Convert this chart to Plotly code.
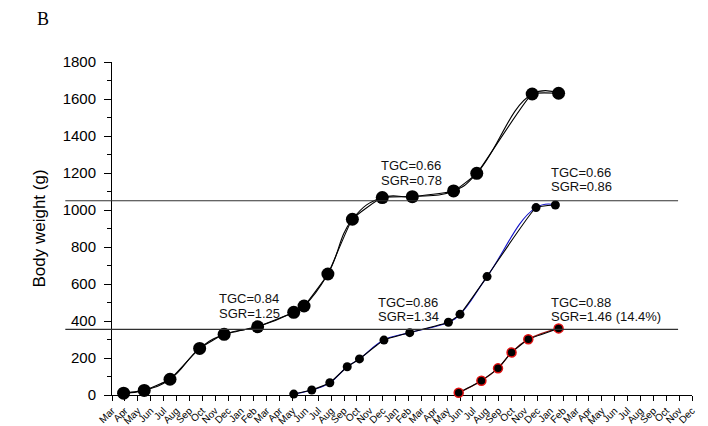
import plotly.graph_objects as go

# Month tick labels along the time axis (one per month, starting in March)
months = [
    "Mar", "Apr", "May", "Jun", "Jul", "Aug", "Sep", "Oct", "Nov", "Dec", "Jan", "Feb",
    "Mar", "Apr", "May", "Jun", "Jul", "Aug", "Sep", "Oct", "Nov", "Dec", "Jan", "Feb",
    "Mar", "Apr", "May", "Jun", "Jul", "Aug", "Sep", "Oct", "Nov", "Dec", "Jan", "Feb",
    "Mar", "Apr", "May", "Jun", "Jul", "Aug", "Sep", "Oct", "Nov", "Dec",
]

# Cohort 1 (month position, body weight in g)
c1_month = [0.9, 2.5, 4.5, 6.8, 8.7, 11.3, 14.1, 14.9, 16.75, 18.65, 20.97, 23.3, 26.5, 28.3, 32.6, 34.65]
c1_weight = [10, 25, 85, 252, 328, 369, 447, 481, 654, 950, 1067, 1072, 1103, 1198, 1627, 1631]

# Cohort 2
c2_month = [14.1, 15.5, 16.9, 18.25, 19.2, 21.1, 23.1, 26.1, 27.0, 29.1, 32.9, 34.4]
c2_weight = [5, 27, 66, 153, 195, 297, 337, 393, 436, 640, 1013, 1027]

# Cohort 3
c3_month = [26.9, 28.66, 29.95, 31.0, 32.3, 34.65]
c3_weight = [12, 77, 144, 230, 301, 360]

# Reference weights drawn as horizontal guide lines
ref_weights = [1050, 355]

# Growth-index labels: (month position, weight, text)
labels = [
    (8.22, 522, "TGC=0.84"), (8.22, 441, "SGR=1.25"),
    (20.80, 1243, "TGC=0.66"), (20.80, 1162, "SGR=0.78"),
    (20.55, 499, "TGC=0.86"), (20.55, 423, "SGR=1.34"),
    (33.98, 1204, "TGC=0.66"), (33.98, 1126, "SGR=0.86"),
    (33.98, 501, "TGC=0.88"), (33.98, 423, "SGR=1.46 (14.4%)"),
]

FONT = "Liberation Sans, Arial, sans-serif"

fig = go.Figure()


def add_cohort(x, y, color_a, color_b, msize, mline):
    # two fitted curves through the same observations, with different smoothing
    fig.add_trace(go.Scatter(x=x, y=y, mode="lines", cliponaxis=False,
                             line=dict(color=color_a, width=1.1, shape="spline", smoothing=1.3),
                             showlegend=False, hoverinfo="skip"))
    fig.add_trace(go.Scatter(x=x, y=y, mode="lines", cliponaxis=False,
                             line=dict(color=color_b, width=1.1, shape="spline", smoothing=0.35),
                             showlegend=False, hoverinfo="skip"))
    fig.add_trace(go.Scatter(x=x, y=y, mode="markers", cliponaxis=False,
                             marker=dict(color="black", size=msize, line=mline),
                             showlegend=False))


add_cohort(c1_month, c1_weight, "black", "black", 13, dict(width=0))
add_cohort(c2_month, c2_weight, "#1010c8", "black", 9, dict(width=0))
add_cohort(c3_month, c3_weight, "#a01010", "black", 9, dict(width=1.5, color="#e01010"))

for w in ref_weights:
    fig.add_shape(type="line", xref="paper", yref="y", x0=-0.0805, x1=0.976,
                  y0=w, y1=w, line=dict(color="#303030", width=1.1), layer="above")

for x, y, t in labels:
    fig.add_annotation(x=x, y=y, xref="x", yref="y", text=t, showarrow=False,
                       xanchor="left", yanchor="middle", borderpad=0,
                       font=dict(family=FONT, size=13, color="#111111"))

# panel letter
fig.add_annotation(x=-0.133, y=1.13, xref="paper", yref="paper", text="B",
                   showarrow=False, xanchor="left", yanchor="middle",
                   font=dict(family="Liberation Serif, Times New Roman, serif", size=18, color="black"))

fig.update_layout(
    width=708, height=426,
    margin=dict(l=112, r=16, t=62, b=31, autoexpand=False),
    plot_bgcolor="white", paper_bgcolor="white",
    font=dict(family=FONT, color="black"),
    xaxis=dict(
        range=[0, 45], tickmode="array", tickvals=list(range(len(months))), ticktext=months,
        tickangle=-45, tickfont=dict(size=10, family=FONT), ticks="outside", ticklen=5,
        tickcolor="black", showline=True, linecolor="black", linewidth=1,
        showgrid=False, zeroline=False, layer="below traces", automargin=False,
    ),
    yaxis=dict(
        range=[0, 1800], tickmode="linear", tick0=0, dtick=200,
        tickfont=dict(size=15, family=FONT), ticks="outside", ticklen=7, tickcolor="black",
        ticklabelstandoff=5,
        minor=dict(dtick=100, ticks="outside", ticklen=4, tickcolor="black"),
        showline=True, linecolor="black", linewidth=1, showgrid=False, zeroline=False,
        title=dict(text="Body weight (g)", font=dict(size=17, family=FONT), standoff=12),
        layer="below traces", automargin=False,
    ),
)

fig.write_html("out.html")
